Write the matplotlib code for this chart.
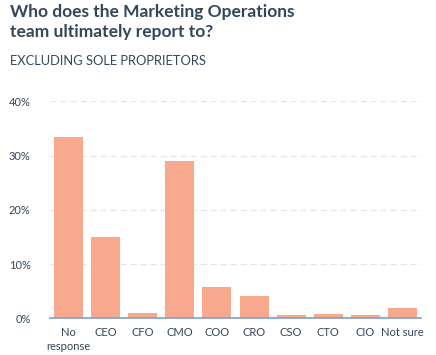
import matplotlib.pyplot as plt

categories = ['No\nresponse', 'CEO', 'CFO', 'CMO', 'COO', 'CRO', 'CSO', 'CTO', 'CIO', 'Not sure']
shares = [33.4, 15.0, 1.0, 29.0, 5.8, 4.1, 0.6, 0.8, 0.6, 1.9]
yticks = [0, 10, 20, 30, 40]

navy = '#33475b'
plt.rcParams['font.family'] = ['Lato', 'DejaVu Sans']

fig = plt.figure(figsize=(4.36, 3.55), dpi=100)
ax = fig.add_axes([50 / 436, 36.7 / 355, 371 / 436, 217 / 355])

x = range(len(categories))
ax.bar(x, shares, width=0.78, color='#f8a88d', zorder=2)

ax.set_xlim(-0.5, len(categories) - 0.5)
ax.set_ylim(0, 40)
ax.set_yticks(yticks)
ax.set_yticklabels([f'{t}%' for t in yticks])
ax.set_xticks(list(x))
ax.set_xticklabels(categories, linespacing=1.4)
ax.tick_params(axis='both', length=0, labelsize=8, colors=navy)
ax.tick_params(axis='y', pad=14)
ax.tick_params(axis='x', pad=6)

ax.grid(axis='y', color='#dfe5ee', linestyle=(0, (5, 3)), linewidth=0.9, zorder=0)
for s in ['top', 'right', 'left']:
    ax.spines[s].set_visible(False)
ax.spines['bottom'].set_color('#7ea1c4')
ax.spines['bottom'].set_linewidth(1.2)
ax.spines['bottom'].set_zorder(3)

fig.text(10 / 436, 1 - 4 / 355, 'Who does the Marketing Operations\nteam ultimately report to?',
         ha='left', va='top', fontsize=12.5, fontweight='bold', color=navy, linespacing=1.3)
fig.text(10 / 436, 1 - 55 / 355, 'EXCLUDING SOLE PROPRIETORS',
         ha='left', va='top', fontsize=9.3, color=navy)

fig.savefig('out.png', dpi=100)
